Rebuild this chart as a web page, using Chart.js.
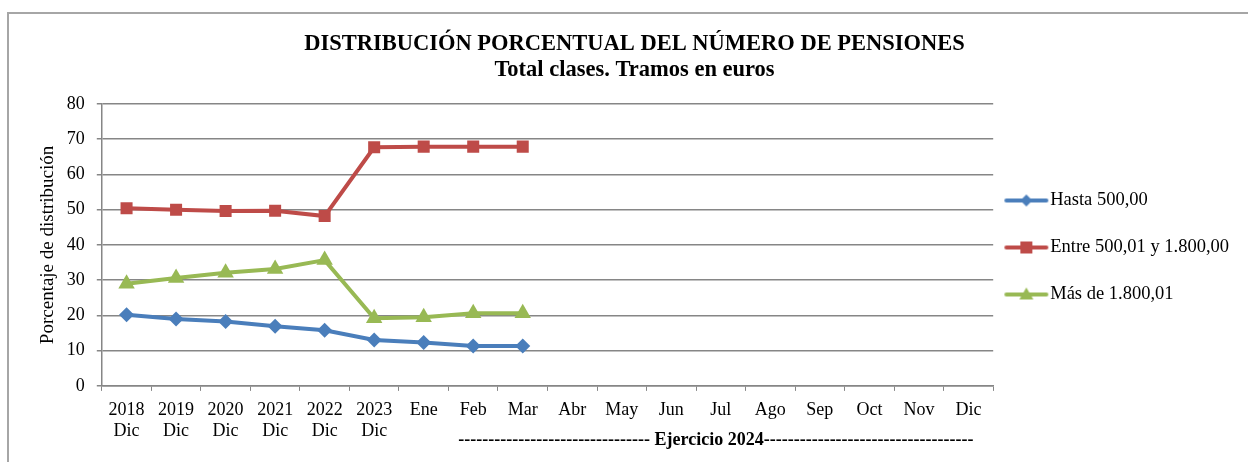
<!DOCTYPE html>
<html>
<head>
<meta charset="utf-8">
<script src="https://cdn.jsdelivr.net/npm/chart.js@4.4.0/dist/chart.umd.min.js"></script>
<style>
  body { margin: 0; background: #fff; }
  #frame { position: absolute; left: 7px; top: 12px; width: 1260px; height: 470px;
           border-top: 2px solid #a6a6a6; border-left: 2px solid #a6a6a6; }
  #wrap { position: absolute; left: 0; top: 0; width: 1248px; height: 462px; }
</style>
</head>
<body>
<div id="frame"></div>
<div id="wrap"><canvas id="chart"></canvas></div>
<script>
const categories = [
  ["2018", "Dic"], ["2019", "Dic"], ["2020", "Dic"], ["2021", "Dic"], ["2022", "Dic"], ["2023", "Dic"],
  "Ene", "Feb", "Mar", "Abr", "May", "Jun", "Jul", "Ago", "Sep", "Oct", "Nov", "Dic"
];
const hasta500 = [20.2, 19.0, 18.3, 16.9, 15.8, 13.0, 12.3, 11.3, 11.3, null, null, null, null, null, null, null, null, null];
const entre500y1800 = [50.4, 50.0, 49.6, 49.7, 48.2, 67.7, 67.9, 67.9, 67.9, null, null, null, null, null, null, null, null, null];
const mas1800 = [29.0, 30.6, 32.1, 33.2, 35.7, 19.2, 19.5, 20.6, 20.6, null, null, null, null, null, null, null, null, null];
const yTicks = [0, 10, 20, 30, 40, 50, 60, 70, 80];

const FONT = "'Liberation Serif', 'Times New Roman', serif";
const BLUE = "#4a7ebb";
const RED = "#be4b48";
const GREEN = "#98b954";

// small legend pictures: line with the marker, drawn left of the image centre
function legendIcon(color, style) {
  const c = document.createElement("canvas");
  c.width = 60; c.height = 16;
  const g = c.getContext("2d");
  const m = 25;
  g.strokeStyle = color; g.lineWidth = 4; g.lineCap = "round";
  g.beginPath(); g.moveTo(m - 20, 8); g.lineTo(m + 20, 8); g.stroke();
  g.fillStyle = color;
  g.beginPath();
  if (style === "diamond") {
    g.moveTo(m, 2); g.lineTo(m + 6, 8); g.lineTo(m, 14); g.lineTo(m - 6, 8);
  } else if (style === "square") {
    g.rect(m - 6, 2, 12, 12);
  } else {
    g.moveTo(m, 1); g.lineTo(m + 7, 13); g.lineTo(m - 7, 13);
  }
  g.closePath(); g.fill();
  return c;
}
const icons = [legendIcon(BLUE, "diamond"), legendIcon(RED, "square"), legendIcon(GREEN, "triangle")];

const ejercicioLabel = {
  id: "ejercicioLabel",
  afterDraw(chart) {
    const x = chart.scales.x;
    const ctx = chart.ctx;
    const cx = (x.getPixelForTick(6) + x.getPixelForTick(17)) / 2 + x.width / 18 * 0.4;
    ctx.save();
    ctx.font = "bold 18px " + FONT;
    ctx.fillStyle = "#000";
    ctx.textAlign = "center";
    ctx.textBaseline = "middle";
    ctx.fillText("-------------------------------- Ejercicio 2024-----------------------------------", cx, 440);
    ctx.restore();
  }
};

new Chart(document.getElementById("chart"), {
  type: "line",
  data: {
    labels: categories,
    datasets: [
      { label: "Hasta 500,00", data: hasta500, borderColor: BLUE, backgroundColor: BLUE,
        borderWidth: 4, pointStyle: "rectRot", pointRadius: 7.5, pointBorderWidth: 0 },
      { label: "Entre 500,01 y 1.800,00", data: entre500y1800, borderColor: RED, backgroundColor: RED,
        borderWidth: 4, pointStyle: "rect", pointRadius: 8.5, pointBorderWidth: 0 },
      { label: "Más de 1.800,01", data: mas1800, borderColor: GREEN, backgroundColor: GREEN,
        borderWidth: 4, pointStyle: "triangle", pointRadius: 9.5, pointBorderWidth: 0 }
    ]
  },
  options: {
    responsive: true,
    maintainAspectRatio: false,
    animation: false,
    layout: { padding: { left: 30, right: 9, top: 0, bottom: 11 } },
    plugins: {
      title: {
        display: true,
        text: "DISTRIBUCIÓN PORCENTUAL DEL NÚMERO DE PENSIONES",
        color: "#000",
        font: { family: FONT, size: 22.5, weight: "bold", lineHeight: 1.1 },
        padding: { top: 31.6, bottom: 1.3 }
      },
      subtitle: {
        display: true,
        text: "Total clases. Tramos en euros",
        color: "#000",
        font: { family: FONT, size: 22.5, weight: "bold", lineHeight: 1.1 },
        padding: { top: 0, bottom: 21.6 }
      },
      legend: {
        position: "right",
        title: { display: true, text: "", font: { size: 12 }, padding: 14.8 },
        labels: {
          color: "#000",
          font: { family: FONT, size: 18.5 },
          usePointStyle: true,
          pointStyleWidth: 19.25,
          padding: 28.5,
          generateLabels(chart) {
            const items = Chart.defaults.plugins.legend.labels.generateLabels(chart);
            items.forEach((it, i) => { it.pointStyle = icons[i]; });
            return items;
          }
        }
      },
      tooltip: { enabled: false }
    },
    scales: {
      x: {
        offset: true,
        grid: { display: true, drawOnChartArea: false, drawTicks: true, tickLength: 5, color: "#868686", offset: true },
        border: { color: "#868686", width: 1.5 },
        ticks: { color: "#000", font: { family: FONT, size: 18, lineHeight: 1.17 }, padding: 9, maxRotation: 0, autoSkip: false }
      },
      y: {
        min: 0, max: 80,
        afterBuildTicks(scale) { scale.ticks = yTicks.map(v => ({ value: v })); },
        grid: { color: "#868686", lineWidth: 1.5, tickLength: 5 },
        border: { color: "#868686", width: 1.5 },
        ticks: { color: "#000", font: { family: FONT, size: 18 }, padding: 12 },
        title: {
          display: true,
          text: "Porcentaje de distribución",
          color: "#000",
          font: { family: FONT, size: 19 },
          padding: { top: 7, bottom: -5 }
        }
      }
    }
  },
  plugins: [ejercicioLabel]
});
</script>
</body>
</html>
